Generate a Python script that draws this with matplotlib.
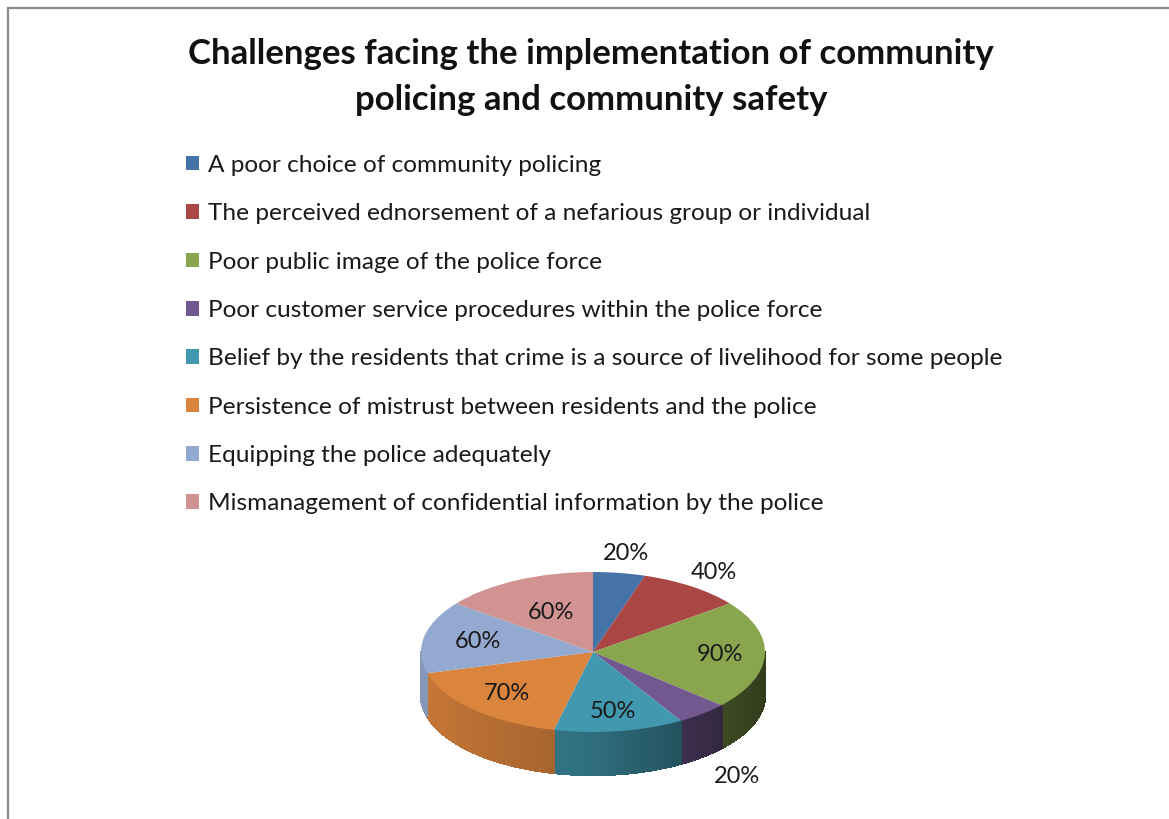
import numpy as np
import matplotlib.pyplot as plt
import matplotlib.colors as mcolors
from matplotlib.collections import PolyCollection
from matplotlib.patches import Rectangle

plt.rcParams['font.family'] = ['Lato', 'DejaVu Sans']

categories = [
    'A poor choice of community policing',
    'The perceived ednorsement of a nefarious group or individual',
    'Poor public image of the police force',
    'Poor customer service procedures within the police force',
    'Belief by the residents that crime is a source of livelihood for some people',
    'Persistence of mistrust between residents and the police',
    'Equipping the police adequately',
    'Mismanagement of confidential information by the police',
]
values = [20, 40, 90, 20, 50, 70, 60, 60]
colors = ['#4572A7', '#AA4643', '#89A54E', '#71588F',
          '#4198AF', '#DB843D', '#93A9CF', '#D19392']

# label placement: radius along the slice's mid angle, and whether it sits outside
label_radius = [1.24, 1.22, 0.74, 1.32, 0.75, 0.72, 0.68, 0.55]
label_outside = [True, True, False, True, False, False, False, False]

W, H = 1169, 819
fig = plt.figure(figsize=(W / 100, H / 100), dpi=100)

# chart frame (only left and top edges fall inside the canvas)
fig.patches.append(Rectangle((8 / W, -0.1), 1.2, (H - 8) / H + 0.1,
                             transform=fig.transFigure, fill=False,
                             edgecolor='#8c8c8c', linewidth=1.6))

fig.text(591 / W, 1 - 77 / H,
         'Challenges facing the implementation of community\npolicing and community safety',
         ha='center', va='center', fontsize=25, fontweight='bold',
         linespacing=1.55, color='#111111')

# pie axes: 172 px per unit horizontally, 80 px vertically -> ellipse
rx, ry = 172, 80
cx, cy = 593, 652
ax = fig.add_axes([(cx - 1.25 * rx) / W, (H - cy - 2.0 * ry) / H,
                   2.5 * rx / W, 3.5 * ry / H])
depth = 43 / ry

total = sum(values)
spans = [v / total * 360 for v in values]
starts = np.concatenate([[0], np.cumsum(spans)[:-1]])

# side wall, shaded by horizontal position
polys, fcols = [], []
for a0, sp, col in zip(starts, spans, colors):
    lo, hi = max(a0, 90), min(a0 + sp, 270)
    if hi <= lo:
        continue
    t = np.radians(np.linspace(lo, hi, int(hi - lo) * 3 + 2))
    base = np.array(mcolors.to_rgb(col))
    for t1, t2 in zip(t[:-1], t[1:]):
        x1, y1 = np.sin(t1), np.cos(t1)
        x2, y2 = np.sin(t2), np.cos(t2)
        polys.append([(x1, y1), (x2, y2), (x2, y2 - depth), (x1, y1 - depth)])
        xm = (x1 + x2) / 2
        f = 0.72 - 0.36 * xm if xm > 0 else 0.72 - 0.18 * xm
        fcols.append(np.clip(base * f, 0, 1))
ax.add_collection(PolyCollection(polys, facecolors=fcols, edgecolors=fcols,
                                 linewidths=1.0, antialiaseds=False))

wedges, _ = ax.pie(values, colors=colors, startangle=90, counterclock=False,
                   wedgeprops=dict(linewidth=0.5, edgecolor='none'))

for a0, sp, v, r, out in zip(starts, spans, values, label_radius, label_outside):
    mid = np.radians(a0 + sp / 2)
    x, y = r * np.sin(mid), r * np.cos(mid)
    if out and y < 0:
        y -= depth
    ax.text(x, y, f'{v}%', ha='center', va='center', fontsize=17,
            color='#1a1a1a')

ax.set_aspect('auto')
ax.set_xlim(-1.25, 1.25)
ax.set_ylim(-2.0, 1.5)
ax.axis('off')

fig.legend(wedges, categories, loc='upper left',
           bbox_to_anchor=(176 / W, 1 - 145 / H), frameon=False,
           fontsize=17.6, handlelength=0.55, handleheight=0.55,
           handletextpad=0.35, labelspacing=1.12, borderaxespad=0,
           labelcolor='#1a1a1a')

fig.savefig('out.png', dpi=100, facecolor='white')
